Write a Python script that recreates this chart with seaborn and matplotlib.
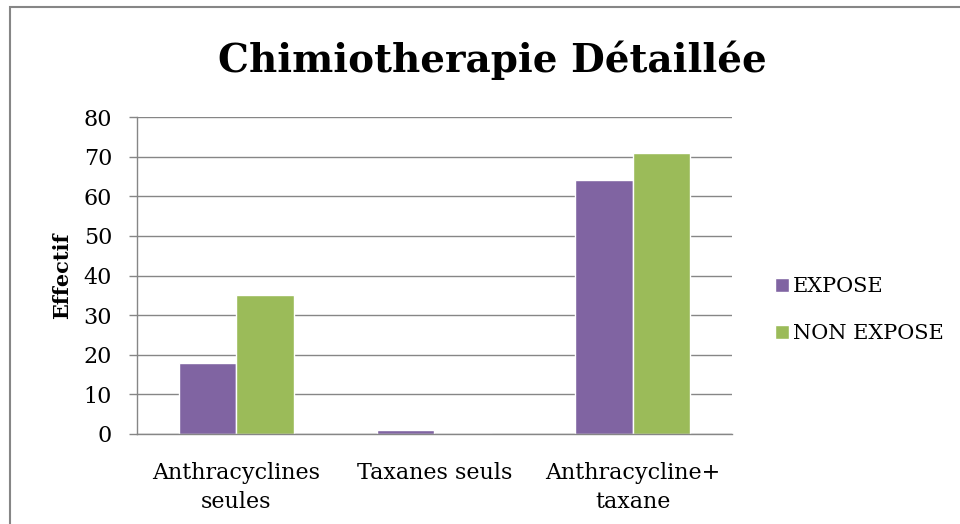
import pandas as pd
import numpy as np
import matplotlib.pyplot as plt
import seaborn as sns
from matplotlib.patches import Rectangle

# data
categories = ["Anthracyclines\nseules", "Taxanes seuls", "Anthracycline+\ntaxane"]
expose = [18, 1, 64]
non_expose = [35, 0, 71]
series = ["EXPOSE", "NON EXPOSE"]

df = pd.DataFrame({
    "cat": categories * 2,
    "val": expose + non_expose,
    "groupe": [series[0]] * 3 + [series[1]] * 3,
})

sns.set_style("white")
plt.rcParams['font.family'] = ['DejaVu Serif']
plt.rcParams['text.color'] = 'black'
plt.rcParams['xtick.color'] = 'black'
plt.rcParams['ytick.color'] = 'black'
plt.rcParams['axes.labelcolor'] = 'black'

fig = plt.figure(figsize=(9.6, 5.24), dpi=100)
ax = fig.add_axes([137 / 960, 1 - 434 / 524, (732 - 137) / 960, (434 - 117) / 524])

sns.barplot(data=df, x="cat", y="val", hue="groupe", order=categories,
            palette=["#8064A2", "#9BBB59"], width=0.58, saturation=1,
            ax=ax, legend=True)

ax.set_ylim(0, 80)
ax.set_xlim(-0.5, 2.5)
ax.set_yticks(np.arange(0, 81, 10))
ax.yaxis.grid(True, color="#868686", linewidth=1)
ax.set_axisbelow(True)
for s in ["top", "right"]:
    ax.spines[s].set_visible(False)
for s in ["left", "bottom"]:
    ax.spines[s].set_color("#868686")
    ax.spines[s].set_linewidth(1)

# category boundary ticks
ax.set_xticks([-0.5, 0.5, 1.5, 2.5], minor=True)
ax.tick_params(axis="x", which="minor", length=6, color="#868686", width=1)
ax.tick_params(axis="x", which="major", length=0, labelsize=16, pad=20,
               labelcolor="black")
ax.tick_params(axis="y", length=6, color="#868686", width=1, labelsize=16, pad=12,
               labelcolor="black", left=True)
for t in ax.get_xticklabels():
    t.set_linespacing(1.45)

ax.set_xlabel("")
ax.set_ylabel("Effectif", fontsize=15, fontweight="bold", labelpad=8.5)

leg = ax.legend(loc="center left", bbox_to_anchor=(1.04, 0.39), frameon=False,
                fontsize=15, handlelength=0.7, handleheight=0.7, handletextpad=0.2,
                labelspacing=1.35)

fig.text(0.513, 0.885, "Chimiotherapie Détaillée", ha="center", va="center",
         fontsize=28, fontweight="bold")

# outer frame of the chart
fig.patches.append(Rectangle((10 / 960, -0.1), 1.2, 1 - 7 / 524 + 0.1,
                             transform=fig.transFigure, fill=False,
                             edgecolor="#868686", linewidth=1.5))

fig.savefig("out.png", dpi=100)
